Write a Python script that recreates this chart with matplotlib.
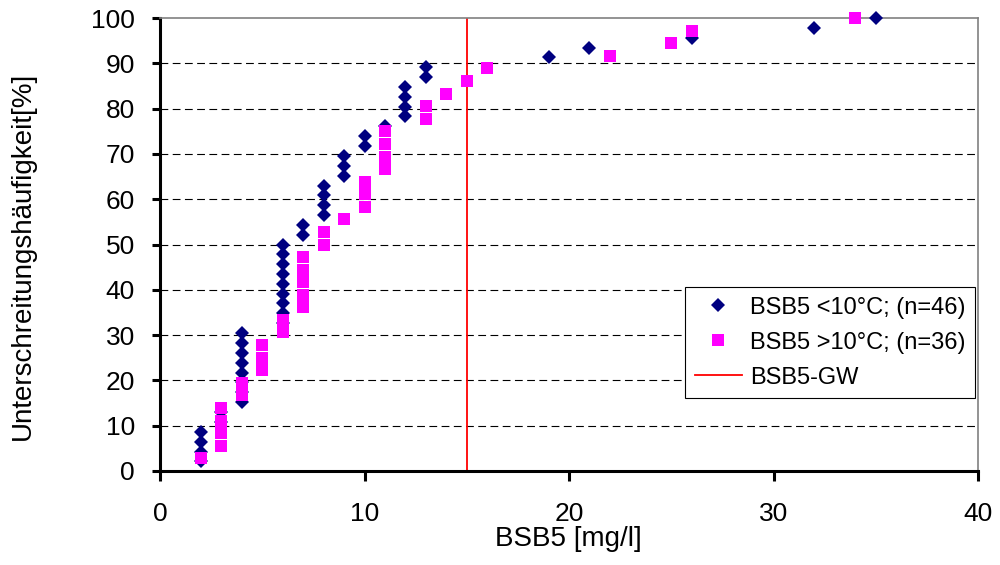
import matplotlib.pyplot as plt

plt.rcParams['font.family'] = ['Liberation Sans', 'DejaVu Sans']

# BSB5 values [mg/l] and exceedance-free frequency [%]
cold_x = [2, 2, 2, 2, 3, 3, 4, 4, 4, 4, 4, 4, 4, 4,
          6, 6, 6, 6, 6, 6, 6, 6, 6, 7, 7, 8, 8, 8, 8,
          9, 9, 9, 10, 10, 11, 12, 12, 12, 12, 13, 13,
          19, 21, 26, 32, 35]
cold_y = [2.2, 4.3, 6.5, 8.7, 10.9, 13.0, 15.2, 17.4, 19.6, 21.7, 23.9, 26.1, 28.3, 30.4,
          32.6, 34.8, 37.0, 39.1, 41.3, 43.5, 45.7, 47.8, 50.0, 52.2, 54.3, 56.5, 58.7, 60.9, 63.0,
          65.2, 67.4, 69.6, 71.7, 73.9, 76.1, 78.3, 80.4, 82.6, 84.8, 87.0, 89.1,
          91.3, 93.5, 95.7, 97.8, 100.0]

warm_x = [2, 3, 3, 3, 3, 4, 4, 5, 5, 5, 6, 6, 7, 7, 7, 7, 7, 8, 8, 9,
          10, 10, 10, 11, 11, 11, 11, 13, 13, 14, 15, 16, 22, 25, 26, 34]
warm_y = [2.8, 5.6, 8.3, 11.1, 13.9, 16.7, 19.4, 22.2, 25.0, 27.8, 30.6, 33.3,
          36.1, 38.9, 41.7, 44.4, 47.2, 50.0, 52.8, 55.6, 58.3, 61.1, 63.9,
          66.7, 69.4, 72.2, 75.0, 77.8, 80.6, 83.3, 86.1, 88.9, 91.7, 94.4, 97.2, 100.0]

gw = 15  # Grenzwert

fig = plt.figure(figsize=(10, 5.65), dpi=100)
ax = fig.add_axes([0.160, 0.1664, 0.818, 0.8016])

for yy in range(10, 100, 10):
    ax.axhline(yy, color='black', lw=0.8, ls=(0, (7, 4)), zorder=1)

ax.plot(cold_x, cold_y, 'D', color='#000080', ms=7, mew=0, ls='none',
        label='BSB5 <10°C; (n=46)', zorder=3, clip_on=False)
ax.plot(warm_x, warm_y, 's', color='#FF00FF', ms=8.5, mew=0, ls='none',
        label='BSB5 >10°C; (n=36)', zorder=4, clip_on=False)
ax.axvline(gw, color='red', lw=1.3, label='BSB5-GW', zorder=2)

ax.set_xlim(0, 40)
ax.set_ylim(0, 100)
ax.set_xticks(range(0, 41, 10))
ax.set_yticks(range(0, 101, 10))

for s in ['left', 'bottom']:
    ax.spines[s].set_linewidth(2.2)
for s in ['top', 'right']:
    ax.spines[s].set_color('#808080')
    ax.spines[s].set_linewidth(1.2)

ax.tick_params(axis='y', direction='out', length=6, width=2.2, labelsize=19, pad=12)
ax.tick_params(axis='x', direction='out', length=7, width=2.2, labelsize=19, pad=15)

ax.set_xlabel('BSB5 [mg/l]', fontsize=20)
ax.set_ylabel('Unterschreitungshäufigkeit[%]', fontsize=20)
ax.xaxis.set_label_coords(0.499, -0.122)
ax.yaxis.set_label_coords(-0.152, 0.474)

leg = ax.legend(loc='lower right', bbox_to_anchor=(0.9963, 0.161), fontsize=17,
                frameon=True, fancybox=False, framealpha=1, edgecolor='black',
                handlelength=2.0, handletextpad=0.35, borderpad=0.4, labelspacing=0.55,
                borderaxespad=0)
leg.get_frame().set_linewidth(0.8)

fig.savefig('out.png', dpi=100)
